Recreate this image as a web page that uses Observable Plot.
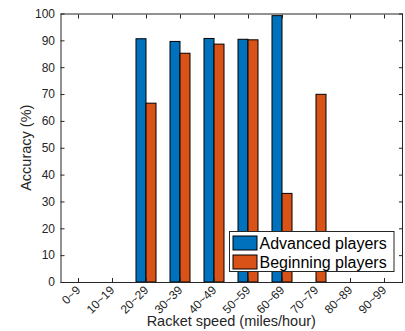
<!DOCTYPE html>
<html>
<head>
<meta charset="utf-8">
<script src="https://cdn.jsdelivr.net/npm/d3@7"></script>
<script src="https://cdn.jsdelivr.net/npm/@observablehq/plot@0.6"></script>
<style>
  body { margin: 0; background: #fff; }
  #chart { position: relative; width: 405px; height: 331px; }
  #chart > svg { position: absolute; left: 0; top: 0; }
</style>
</head>
<body>
<div id="chart"></div>
<script>
const categories = ["0~9", "10~19", "20~29", "30~39", "40~49", "50~59", "60~69", "70~79", "80~89", "90~99"];
const advanced = [0, 0, 90.6, 89.6, 90.7, 90.4, 99.2, 0, 0, 0];
const beginning = [0, 0, 66.6, 85.2, 88.6, 90.2, 33.0, 69.9, 0, 0];
const seriesNames = ["Advanced players", "Beginning players"];
const colors = ["#0072BD", "#D95319"];
const yTicks = [0, 10, 20, 30, 40, 50, 60, 70, 80, 90, 100];
const xLabel = "Racket speed (miles/hour)";
const yLabel = "Accuracy (%)";

const advData = categories.map((c, i) => ({cat: c, value: advanced[i]})).filter(d => d.value > 0);
const begData = categories.map((c, i) => ({cat: c, value: beginning[i]})).filter(d => d.value > 0);

const font = "'Liberation Sans', Arial, Helvetica, sans-serif";
const axisColor = "#262626";

const chart = Plot.plot({
  width: 405,
  height: 331,
  marginLeft: 60.5,
  marginRight: 3,
  marginTop: 13.5,
  marginBottom: 49,
  style: {fontFamily: font, color: axisColor, background: "#fff"},
  x: {domain: categories, padding: 0},
  y: {domain: [0, 100]},
  marks: [
    Plot.barY(advData, {x: "cat", y: "value", fill: colors[0], stroke: "#000", strokeWidth: 1, insetLeft: 7, insetRight: 17}),
    Plot.barY(begData, {x: "cat", y: "value", fill: colors[1], stroke: "#000", strokeWidth: 1, insetLeft: 17, insetRight: 7}),
    Plot.frame({stroke: axisColor, strokeWidth: 1}),
    Plot.axisY(yTicks, {anchor: "left", tickSize: -4, tickPadding: 10, fontSize: 12, label: null, stroke: axisColor, fill: axisColor}),
    Plot.axisY(yTicks, {anchor: "right", tickSize: -4, tickFormat: () => "", label: null, stroke: axisColor}),
    Plot.axisX({anchor: "bottom", tickSize: -4, tickPadding: 9.5, tickRotate: -45, fontSize: 12, label: null, stroke: axisColor, fill: axisColor}),
    Plot.axisX({anchor: "top", tickSize: -4, tickFormat: () => "", label: null, stroke: axisColor})
  ]
});

document.getElementById("chart").appendChild(chart);

// overlay svg for axis titles and legend
const ov = d3.select("#chart").append("svg")
  .attr("width", 405).attr("height", 331)
  .style("font-family", font);

ov.append("text")
  .attr("x", (60.5 + 402) / 2).attr("y", 325.5)
  .attr("text-anchor", "middle")
  .style("font-size", "14.5px").attr("fill", axisColor)
  .text(xLabel);
ov.append("text")
  .attr("transform", `translate(30.5,${(13.5 + 282) / 2}) rotate(-90)`)
  .attr("text-anchor", "middle")
  .style("font-size", "14.5px").attr("fill", axisColor)
  .text(yLabel);

const lg = ov.append("g").attr("transform", "translate(229.5,231.5)");
lg.append("rect").attr("x", 0).attr("y", 0).attr("width", 164.5).attr("height", 40)
  .attr("fill", "#fff").attr("stroke", axisColor).attr("stroke-width", 1);
seriesNames.forEach((name, i) => {
  lg.append("rect").attr("x", 3.5).attr("y", 4.5 + i * 19).attr("width", 24).attr("height", 14)
    .attr("fill", colors[i]).attr("stroke", "#000").attr("stroke-width", 1);
  lg.append("text").attr("x", 30).attr("y", 17.5 + i * 19)
    .attr("text-anchor", "start")
    .style("font-size", "16px").attr("fill", "#000")
    .text(name);
});
</script>
</body>
</html>
